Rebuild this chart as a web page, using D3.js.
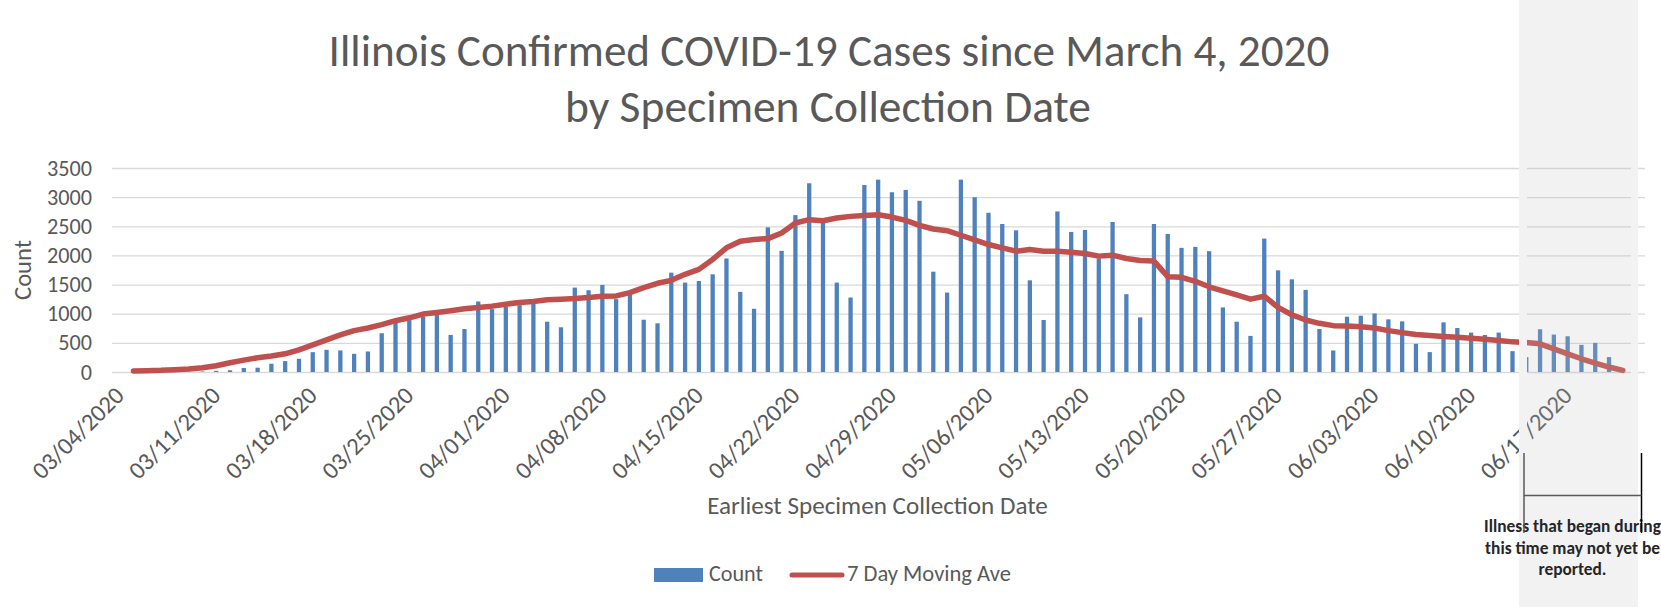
<!DOCTYPE html>
<html>
<head>
<meta charset="utf-8">
<script src="https://cdn.jsdelivr.net/npm/d3@7"></script>
<style>
	body { margin: 0; background: #fff; }
	svg { display: block; }
	text { font-family: Carlito, Calibri, Lato, sans-serif; }
</style>
</head>
<body>
<svg id="chart" width="1661" height="612"></svg>
<script>

// Daily counts from 03/04/2020 to 06/20/2020
var counts = [1, 1, 2, 3, 5, 8, 20, 30, 68, 74,
	142, 187, 227, 340, 380, 370, 312, 352, 665, 852,
	890, 954, 977, 636, 738, 1210, 1079, 1119, 1147, 1176,
	863, 767, 1448, 1403, 1494, 1250, 1323, 897, 835, 1704,
	1534, 1562, 1676, 1948, 1375, 1085, 2482, 2079, 2692, 3238,
	2584, 1534, 1278, 3209, 3300, 3084, 3124, 2937, 1721, 1363,
	3300, 2999, 2732, 2539, 2431, 1573, 892, 2755, 2403, 2437,
	1948, 2573, 1335, 937, 2539, 2369, 2130, 2147, 2073, 1108,
	863, 619, 2289, 1744, 1590, 1409, 738, 369, 949, 966,
	1005, 903, 869, 483, 341, 852, 755, 676, 636, 676,
	358, 256, 733, 642, 613, 466, 500, 256, 15];

// 7 day moving average, same days
var movingAve = [17, 23, 28, 40, 51, 74, 108, 159, 204, 244,
	273, 312, 380, 466, 551, 636, 710, 755, 812, 880,
	930, 994, 1022, 1051, 1085, 1108, 1130, 1164, 1193, 1210,
	1238, 1250, 1261, 1278, 1300, 1306, 1363, 1448, 1522, 1573,
	1676, 1761, 1931, 2130, 2244, 2272, 2289, 2386, 2556, 2613,
	2596, 2641, 2670, 2687, 2698, 2658, 2601, 2516, 2454, 2425,
	2346, 2266, 2187, 2130, 2073, 2102, 2073, 2073, 2056, 2033,
	1988, 2005, 1948, 1914, 1903, 1636, 1625, 1556, 1462, 1392,
	1323, 1250, 1300, 1108, 983, 892, 835, 795, 790, 778,
	755, 710, 676, 642, 625, 608, 596, 579, 562, 540,
	517, 506, 483, 398, 312, 227, 153, 85, 28];

var tickLabels = ["03/04/2020", "03/11/2020", "03/18/2020", "03/25/2020", "04/01/2020",
	"04/08/2020", "04/15/2020", "04/22/2020", "04/29/2020", "05/06/2020", "05/13/2020",
	"05/20/2020", "05/27/2020", "06/03/2020", "06/10/2020", "06/17/2020"];
var yTicks = [0, 500, 1000, 1500, 2000, 2500, 3000, 3500];
var noteLines = ["Illness that began during", "this time may not yet be", "reported."];

var blue = "#4F81BD", red = "#C0504D", grey = "#595959";

var dates = d3.timeDay.range(new Date(2020, 2, 4), new Date(2020, 5, 21));
var fmt = d3.timeFormat("%m/%d/%Y"), parse = d3.timeParse("%m/%d/%Y");

var svg = d3.select("#chart");

// scale the font of a text so it takes the given width
function fitWidth(sel, w) {
	var fs = parseFloat(sel.attr("font-size"));
	var cur = sel.node().getComputedTextLength();
	sel.attr("font-size", fs * w / cur);
	return fs * w / cur;
}

var x = d3.scaleBand()
	.domain(dates.map(fmt))
	.range([126.6, 1629.7])
	.paddingInner(0.69)
	.paddingOuter(0.345);
var y = d3.scaleLinear().domain([0, 3500]).range([372, 168]);

// Title
var t1 = svg.append("text").attr("x", 829).attr("y", 66).attr("text-anchor", "middle")
	.attr("fill", grey).attr("font-size", 36).text("Illinois Confirmed COVID-19 Cases since March 4, 2020");
fitWidth(t1, 1001);
var t2 = svg.append("text").attr("x", 828).attr("y", 122).attr("text-anchor", "middle")
	.attr("fill", grey).attr("font-size", 36).text("by Specimen Collection Date");
fitWidth(t2, 526);

// Gridlines and y axis
var yAxis = svg.append("g")
	.attr("transform", "translate(112,0)")
	.call(d3.axisLeft(y).tickValues(yTicks).tickFormat(d3.format("d"))
		.tickSize(-1533).tickPadding(20));
yAxis.select(".domain").remove();
yAxis.selectAll(".tick line").attr("stroke", "#d9d9d9").attr("stroke-width", 1.3);
yAxis.selectAll(".tick text").attr("fill", grey).attr("font-size", 20).attr("font-family", null);
var ys = fitWidth(yAxis.select(".tick:last-of-type text"), 45);
yAxis.selectAll(".tick text").attr("font-size", ys);

var yTitle = svg.append("text").attr("transform", "translate(31,270) rotate(-90)")
	.attr("text-anchor", "middle").attr("fill", grey).attr("font-size", 20).text("Count");
fitWidth(yTitle, 60);

// Bars
svg.append("g").selectAll("rect").data(counts).enter().append("rect")
	.attr("x", function(d, i){ return x(fmt(dates[i])); })
	.attr("y", function(d){ return y(d); })
	.attr("width", x.bandwidth())
	.attr("height", function(d){ return y(0) - y(d); })
	.attr("fill", blue);

// Moving average
var cx = function(i){ return x(fmt(dates[i])) + x.bandwidth() / 2; };
var line = d3.line()
	.x(function(d, i){ return cx(i); })
	.y(function(d){ return y(d); });
svg.append("path").datum(movingAve)
	.attr("d", line)
	.attr("fill", "none").attr("stroke", red).attr("stroke-width", 5.5)
	.attr("stroke-linejoin", "round").attr("stroke-linecap", "round");

// X tick labels
var xl = svg.append("g").selectAll("text").data(tickLabels).enter().append("text")
	.attr("transform", function(d){
		return "translate(" + (x(fmt(parse(d))) + x.bandwidth() / 2 - 8) + ",397) rotate(-45)";
	})
	.attr("text-anchor", "end").attr("fill", grey).attr("font-size", 20)
	.text(function(d){ return d; });
var xs = fitWidth(d3.select(xl.nodes()[0]), 118);
xl.attr("font-size", xs);

var xTitle = svg.append("text").attr("x", 877.5).attr("y", 514).attr("text-anchor", "middle")
	.attr("fill", grey).attr("font-size", 20).text("Earliest Specimen Collection Date");
fitWidth(xTitle, 341);

// Legend
svg.append("rect").attr("x", 654).attr("y", 568).attr("width", 49).attr("height", 14).attr("fill", blue);
var lc = svg.append("text").attr("x", 709).attr("y", 581).attr("fill", grey).attr("font-size", 20).text("Count");
fitWidth(lc, 54);
svg.append("line").attr("x1", 792).attr("x2", 842).attr("y1", 575).attr("y2", 575)
	.attr("stroke", red).attr("stroke-width", 5).attr("stroke-linecap", "round");
var lm = svg.append("text").attr("x", 847).attr("y", 581).attr("fill", grey).attr("font-size", 20).text("7 Day Moving Ave");
fitWidth(lm, 164);

// Grey band: data not yet complete
svg.append("rect").attr("x", 1527).attr("y", 0).attr("width", 104).attr("height", 607)
	.attr("fill", "rgb(190,190,190)").attr("fill-opacity", 0.2);
svg.append("rect").attr("x", 1519).attr("y", 0).attr("width", 8).attr("height", 607).attr("fill", "#f2f2f2");
svg.append("rect").attr("x", 1631).attr("y", 0).attr("width", 7).attr("height", 607).attr("fill", "#f2f2f2");

var note = svg.append("g").selectAll("text").data(noteLines).enter().append("text")
	.attr("x", 1572.5).attr("y", function(d, i){ return 532 + i * 21.5; })
	.attr("text-anchor", "middle").attr("fill", "#262626").attr("font-weight", "bold")
	.attr("font-size", 14).text(function(d){ return d; });
var ns = fitWidth(d3.select(note.nodes()[1]), 175);
note.attr("font-size", ns);

svg.append("line").attr("x1", 1524).attr("x2", 1524).attr("y1", 453).attr("y2", 533)
	.attr("stroke", grey).attr("stroke-width", 1.5);
svg.append("line").attr("x1", 1641.5).attr("x2", 1641.5).attr("y1", 453).attr("y2", 533)
	.attr("stroke", "#000").attr("stroke-width", 1.5);
svg.append("line").attr("x1", 1524).attr("x2", 1641.5).attr("y1", 495.5).attr("y2", 495.5)
	.attr("stroke", grey).attr("stroke-width", 1.5);

</script>
</body>
</html>
